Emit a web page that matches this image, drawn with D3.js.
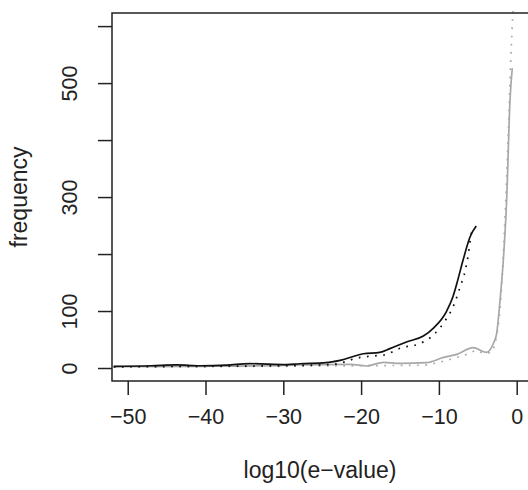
<!DOCTYPE html>
<html>
<head>
	<meta charset="utf-8">
	<title>e-value frequency</title>
	<style>
		body { margin: 0; background: #fff; }
		text { font-family: "Liberation Sans", Arial, sans-serif; fill: #222; }
	</style>
</head>
<body>
	<script src="https://d3js.org/d3.v7.min.js"></script>

<script>

	var width = 528,
	height = 490,
	boxLeft = 112,
	boxRight = 530,   // right edge falls just off the picture
	boxTop = 13,
	boxBottom = 381,
	tickFont = 21.5,
	titleFont = 23;

	// x ticks and y ticks (R drops the labels that would overlap)
	var xTicks = [-50, -40, -30, -20, -10, 0];
	var yTicks = [0, 100, 200, 300, 400, 500, 600];
	var yTickLabels = ["0", "100", "", "300", "", "500", ""];

	// black solid
	var blackSolidX = [-51.8, -47, -43.7, -40.7, -37.3, -34.3, -29.6, -27.9, -24.5, -22.7, -19.7, -17.6, -16.3, -14.1, -12.0, -10.7, -9.0, -8.2, -7.7, -6.9, -6.0, -5.2];
	var blackSolidY = [3, 4, 5.5, 4, 5, 7.6, 6, 7.5, 9.4, 13.5, 25, 27.5, 34, 46, 56, 70, 100, 125, 148, 189, 230, 249];

	// black dotted
	var blackDotX = [-51.8, -40, -30, -23.6, -20.1, -18.0, -16.9, -14.8, -12.6, -10.7, -9.2, -8.1, -7.3, -6.6, -6.2, -5.8, -5.6];
	var blackDotY = [2, 3, 4, 6.4, 18.7, 21.6, 23.4, 35.7, 42, 58, 83, 110, 141, 172, 201, 239, 246];

	// grey solid
	var greySolidX = [-51.8, -40, -30, -27.9, -21.4, -19.3, -17.1, -15.0, -11.6, -9.4, -7.7, -5.6, -3.9, -3.0, -2.57, -2.14, -1.72, -1.29, -0.86, -0.57];
	var greySolidY = [2.5, 3, 4.5, 5.3, 6.4, 3.5, 10, 8, 9.4, 18.7, 24, 35.7, 27.5, 43, 61, 119, 189, 295, 470, 526];

	// grey dotted
	var greyDotX = [-51.8, -40, -30, -20, -12, -10, -8.6, -7.3, -6.2, -5.1, -4.3, -3.3, -2.8, -2.4, -2.15, -1.8, -1.5, -1.08, -0.77, -0.47];
	var greyDotY = [2, 2.5, 3, 4, 5, 10, 15, 20, 25, 31, 26, 27, 43, 72, 102, 178, 265, 412, 537, 631];

	var x = d3.scaleLinear().domain([-52.02, 1.71]).range([boxLeft, boxRight]);
	var y = d3.scaleLinear().domain([-22.8, 623]).range([boxBottom, boxTop]);

	var svg = d3.select("body")
		.append("svg")
		.attr("width", width)
		.attr("height", height);

	var line = d3.line()
		.x(function(d) { return x(d[0]); })
		.y(function(d) { return y(d[1]); })
		.curve(d3.curveMonotoneX);

	function pairs(xs, ys) { return xs.map(function(v, i) { return [v, ys[i]]; }); }

	var series = [
		{ pts: pairs(greyDotX, greyDotY), color: "#a8a8a8", dash: "1.7,6.5" },
		{ pts: pairs(greySolidX, greySolidY), color: "#a8a8a8", dash: null },
		{ pts: pairs(blackDotX, blackDotY), color: "#111", dash: "1.7,6.5" },
		{ pts: pairs(blackSolidX, blackSolidY), color: "#111", dash: null }
	];

	svg.selectAll("path.series")
		.data(series)
		.enter().append("path")
		.attr("class", "series")
		.attr("d", function(d) { return line(d.pts); })
		.attr("fill", "none")
		.attr("stroke", function(d) { return d.color; })
		.attr("stroke-width", 1.7)
		.attr("stroke-dasharray", function(d) { return d.dash; });

	// box (left, top, bottom; right side is off the picture)
	svg.append("path")
		.attr("d", "M" + boxRight + "," + boxTop + "H" + boxLeft + "V" + boxBottom + "H" + boxRight)
		.attr("fill", "none")
		.attr("stroke", "#222")
		.attr("stroke-width", 1.5);

	var xAxis = d3.axisBottom(x)
		.tickValues(xTicks)
		.tickSize(14)
		.tickSizeOuter(0)
		.tickPadding(14);

	var gx = svg.append("g")
		.attr("transform", "translate(0," + boxBottom + ")")
		.call(xAxis);
	gx.select(".domain").remove();
	gx.selectAll("line").attr("stroke", "#222").attr("stroke-width", 1.5);
	gx.selectAll("text").attr("font-size", tickFont).attr("font-family", null).style("fill", "#222");

	var yAxis = d3.axisLeft(y)
		.tickValues(yTicks)
		.tickFormat(function(d, i) { return yTickLabels[i]; })
		.tickSize(14)
		.tickSizeOuter(0);

	var gy = svg.append("g")
		.attr("transform", "translate(" + boxLeft + ",0)")
		.call(yAxis);
	gy.select(".domain").remove();
	gy.selectAll("line").attr("stroke", "#222").attr("stroke-width", 1.5);
	gy.selectAll("text")
		.attr("font-size", tickFont)
		.attr("font-family", null)
		.style("fill", "#222")
		.attr("x", null)
		.attr("dy", null)
		.attr("text-anchor", "middle")
		.attr("transform", "translate(-35,0) rotate(-90)");

	// axis titles
	svg.append("text")
		.attr("x", (boxLeft + boxRight) / 2 - 1)
		.attr("y", 478)
		.attr("text-anchor", "middle")
		.attr("font-size", titleFont)
		.text("log10(e\u2212value)");

	svg.append("text")
		.attr("transform", "translate(27," + (boxTop + boxBottom) / 2 + ") rotate(-90)")
		.attr("text-anchor", "middle")
		.attr("font-size", titleFont)
		.text("frequency");

</script>
</body>
</html>
